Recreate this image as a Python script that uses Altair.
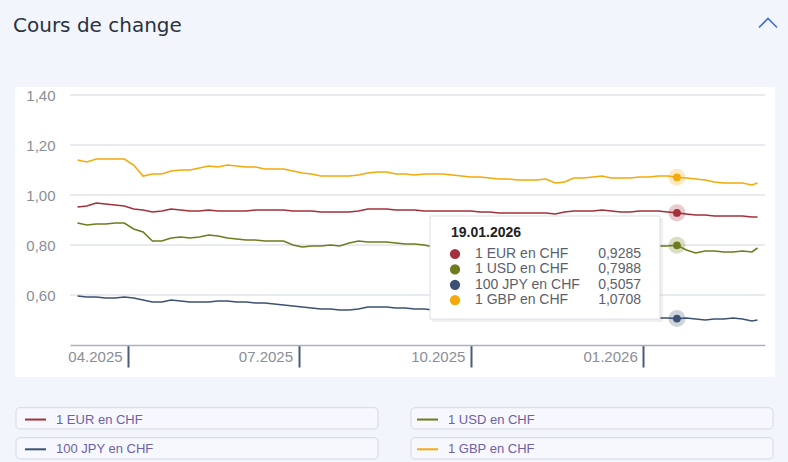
import altair as alt
import pandas as pd

# ---------------- data ----------------
DATES = [
    "2025-03-05", "2025-03-10", "2025-03-15", "2025-03-20", "2025-03-25", "2025-03-30",
    "2025-04-04", "2025-04-09", "2025-04-14", "2025-04-19", "2025-04-24", "2025-04-29",
    "2025-05-04", "2025-05-09", "2025-05-14", "2025-05-19", "2025-05-24", "2025-05-29",
    "2025-06-03", "2025-06-08", "2025-06-13", "2025-06-18", "2025-06-23", "2025-06-28",
    "2025-07-03", "2025-07-08", "2025-07-13", "2025-07-18", "2025-07-23", "2025-07-28",
    "2025-08-02", "2025-08-07", "2025-08-12", "2025-08-17", "2025-08-22", "2025-08-27",
    "2025-09-01", "2025-09-06", "2025-09-11", "2025-09-16", "2025-09-21", "2025-09-26",
    "2025-10-01", "2025-10-06", "2025-10-11", "2025-10-16", "2025-10-21", "2025-10-26", "2025-10-31",
    "2025-11-05", "2025-11-10", "2025-11-15", "2025-11-20", "2025-11-25", "2025-11-30",
    "2025-12-05", "2025-12-10", "2025-12-15", "2025-12-20", "2025-12-25", "2025-12-30",
    "2026-01-04", "2026-01-09", "2026-01-14", "2026-01-19", "2026-01-24", "2026-01-29",
    "2026-02-03", "2026-02-08", "2026-02-13", "2026-02-18", "2026-02-23", "2026-02-28",
    "2026-03-03",
]

EUR = [
    0.952, 0.956, 0.968, 0.964, 0.960, 0.956,
    0.944, 0.940, 0.932, 0.936, 0.944, 0.940,
    0.936, 0.936, 0.940, 0.936, 0.936, 0.936,
    0.936, 0.940, 0.940, 0.940, 0.940, 0.936,
    0.936, 0.936, 0.932, 0.932, 0.932, 0.932,
    0.936, 0.944, 0.944, 0.944, 0.940, 0.940,
    0.940, 0.936, 0.936, 0.936, 0.936, 0.936,
    0.936, 0.932, 0.932, 0.928, 0.928, 0.928, 0.928,
    0.928, 0.928, 0.924, 0.932, 0.936, 0.936,
    0.936, 0.940, 0.936, 0.932, 0.932, 0.936,
    0.936, 0.936, 0.932, 0.9285, 0.924, 0.920,
    0.920, 0.916, 0.916, 0.916, 0.916, 0.912,
    0.912,
]

USD = [
    0.888, 0.880, 0.884, 0.884, 0.888, 0.888,
    0.864, 0.852, 0.816, 0.816, 0.828, 0.832,
    0.828, 0.832, 0.840, 0.836, 0.828, 0.824,
    0.820, 0.820, 0.816, 0.816, 0.816, 0.800,
    0.792, 0.796, 0.796, 0.800, 0.796, 0.808,
    0.816, 0.812, 0.812, 0.812, 0.808, 0.804,
    0.804, 0.800, 0.792, 0.796, 0.796, 0.800,
    0.804, 0.804, 0.808, 0.808, 0.812, 0.812, 0.816,
    0.816, 0.816, 0.812, 0.808, 0.804, 0.796,
    0.796, 0.792, 0.788, 0.788, 0.788, 0.788,
    0.792, 0.796, 0.796, 0.7988, 0.780, 0.768,
    0.776, 0.776, 0.772, 0.772, 0.776, 0.772,
    0.788,
]

JPY = [
    0.596, 0.592, 0.592, 0.588, 0.588, 0.592,
    0.588, 0.580, 0.572, 0.572, 0.580, 0.576,
    0.572, 0.572, 0.572, 0.576, 0.576, 0.572,
    0.572, 0.568, 0.568, 0.564, 0.560, 0.556,
    0.552, 0.548, 0.544, 0.544, 0.540, 0.540,
    0.544, 0.552, 0.552, 0.552, 0.548, 0.548,
    0.544, 0.544, 0.540, 0.540, 0.536, 0.536,
    0.532, 0.532, 0.528, 0.528, 0.524, 0.524, 0.520,
    0.520, 0.516, 0.516, 0.516, 0.512, 0.512,
    0.512, 0.508, 0.508, 0.508, 0.508, 0.508,
    0.508, 0.508, 0.508, 0.5057, 0.508, 0.504,
    0.500, 0.504, 0.504, 0.508, 0.504, 0.496,
    0.500,
]

GBP = [
    1.140, 1.132, 1.144, 1.144, 1.144, 1.144,
    1.120, 1.076, 1.084, 1.084, 1.096, 1.100,
    1.100, 1.108, 1.116, 1.112, 1.120, 1.116,
    1.112, 1.112, 1.104, 1.104, 1.104, 1.096,
    1.088, 1.084, 1.076, 1.076, 1.076, 1.076,
    1.080, 1.088, 1.092, 1.092, 1.084, 1.084,
    1.080, 1.084, 1.084, 1.084, 1.080, 1.076,
    1.072, 1.072, 1.068, 1.064, 1.064, 1.060, 1.060,
    1.060, 1.064, 1.048, 1.052, 1.068, 1.068,
    1.072, 1.076, 1.068, 1.068, 1.068, 1.072,
    1.072, 1.076, 1.076, 1.0708, 1.068, 1.064,
    1.060, 1.052, 1.048, 1.048, 1.048, 1.040,
    1.048,
]

SERIES = ["1 EUR en CHF", "1 USD en CHF", "100 JPY en CHF", "1 GBP en CHF"]
COLORS = ["#a3303a", "#6f7b1d", "#3d5174", "#f5a90a"]
Y_TICKS = [0.6, 0.8, 1.0, 1.2, 1.4]
X_TICKS = [(2025, 4, 1), (2025, 7, 1), (2025, 10, 1), (2026, 1, 1)]
HOVER_DATE = "2026-01-19"
TITLE = "Cours de change"

# ---------------- tables ----------------
rows = []
for name, vals in zip(SERIES, [EUR, USD, JPY, GBP]):
    for d, v in zip(DATES, vals):
        rows.append({"date": d, "series": name, "value": v})
df = pd.DataFrame(rows)
hover = df[df["date"] == HOVER_DATE]
one = pd.DataFrame({"k": [0]})

FONT = "Liberation Sans"

x_scale = alt.Scale(
    type="utc",
    domain=[alt.DateTime(year=2025, month=3, date=1, utc=True),
            alt.DateTime(year=2026, month=3, date=7, utc=True)],
)
y_scale = alt.Scale(domain=[0.4, 1.4], nice=False, zero=False)
color_scale = alt.Scale(domain=SERIES, range=COLORS)

x_axis = alt.Axis(
    values=[alt.DateTime(year=y, month=m, date=d, utc=True) for (y, m, d) in X_TICKS],
    labelExpr="utcFormat(datum.value, '%m.%Y')",
    labelAlign="right", labelOffset=-6, labelPadding=-18, labelBaseline="top",
    labelFlush=False, labelFontSize=15, labelFont=FONT, labelColor="#8a8e98",
    tickSize=22, tickWidth=2, tickColor="#4b5b78",
    domainColor="#aab2bf", domainWidth=1.5,
    grid=False, title=None, zindex=1,
)
y_axis = alt.Axis(
    values=Y_TICKS,
    labelExpr="replace(format(datum.value, '.2f'), '.', ',')",
    domain=False, ticks=False, grid=False,
    labelPadding=15, labelFontSize=15, labelFont=FONT, labelColor="#8a8e98",
    title=None, zindex=1,
)
legend = alt.Legend(
    title=None, orient="none", legendX=-46, legendY=312.8,
    direction="horizontal", columns=2, columnPadding=259, rowPadding=11, padding=0,
    symbolType="stroke", symbolSize=441, symbolStrokeWidth=2, symbolOpacity=1,
    labelFontSize=13, labelFont=FONT, labelColor="#6e5fa6", labelOffset=9,
)

X = alt.X("date:T", scale=x_scale, axis=x_axis)
Y = alt.Y("value:Q", scale=y_scale, axis=y_axis)

# ---------------- decorations ----------------
panel = alt.Chart(one).mark_rect(fill="white").encode(
    x=alt.value(-55), x2=alt.value(705), y=alt.value(-8), y2=alt.value(282))

boxes = []
for bx in (-54, 341):
    for by in (312.7, 342.7):
        boxes.append(alt.Chart(one).mark_rect(
            fill="#f6f8fd", stroke="#d3d9e4", strokeWidth=1, cornerRadius=4
        ).encode(x=alt.value(bx), x2=alt.value(bx + 362),
                 y=alt.value(by), y2=alt.value(by + 21.3)))

title = alt.Chart(one).mark_text(
    text=TITLE, font="DejaVu Sans", fontSize=20, color="#2b3140",
    align="left", baseline="alphabetic"
).encode(x=alt.value(-57), y=alt.value(-63))

chevron = alt.Chart(one).mark_point(
    shape="M-1,0.5L0,-0.5L1,0.5", size=324, filled=False,
    color="#3d6fd3", strokeWidth=1.6, opacity=1
).encode(x=alt.value(698), y=alt.value(-72))

grid = alt.Chart(pd.DataFrame({"value": Y_TICKS})).mark_rule(
    color="#d0d6e0", strokeWidth=1
).encode(y=Y)

# ---------------- data marks ----------------
lines = alt.Chart(df).mark_line(strokeWidth=1.6).encode(
    x=X, y=Y,
    color=alt.Color("series:N", scale=color_scale, legend=legend),
)

halo = alt.Chart(hover).mark_circle(size=290, opacity=0.25).encode(
    x=X, y=Y,
    color=alt.Color("series:N", scale=color_scale, legend=None),
)
dot = alt.Chart(hover).mark_circle(size=60, opacity=1).encode(
    x=X, y=Y,
    color=alt.Color("series:N", scale=color_scale, legend=None),
)

# ---------------- static tooltip ----------------
yy, mm, dd = HOVER_DATE.split("-")
tip_layers = [
    alt.Chart(one).mark_rect(fill="#000000", opacity=0.06).encode(
        x=alt.value(362), x2=alt.value(593), y=alt.value(123), y2=alt.value(227)),
    alt.Chart(one).mark_rect(fill="white", stroke="#dcdfe5", strokeWidth=1).encode(
        x=alt.value(360), x2=alt.value(590), y=alt.value(121), y2=alt.value(224)),
    alt.Chart(one).mark_text(
        text=f"{dd}.{mm}.{yy}", font=FONT, fontSize=14, fontWeight="bold",
        color="#222222", align="left", baseline="alphabetic"
    ).encode(x=alt.value(381), y=alt.value(142)),
]
for i, name in enumerate(SERIES):
    cy = 159 + i * 15.4
    val = float(hover[hover["series"] == name]["value"].iloc[0])
    tip_layers.append(alt.Chart(one).mark_circle(size=105, color=COLORS[i], opacity=1).encode(
        x=alt.value(385), y=alt.value(cy)))
    tip_layers.append(alt.Chart(one).mark_text(
        text=name, font=FONT, fontSize=14, color="#5b5f6b", align="left", baseline="middle"
    ).encode(x=alt.value(405), y=alt.value(cy)))
    tip_layers.append(alt.Chart(one).mark_text(
        text=f"{val:.4f}".replace(".", ","), font=FONT, fontSize=14, color="#5b5f6b",
        align="right", baseline="middle"
    ).encode(x=alt.value(571), y=alt.value(cy)))

chart = alt.layer(
    panel, *boxes, title, chevron, grid, lines, *tip_layers, halo, dot
).properties(
    width=695, height=250,
    padding={"left": 70, "top": 95, "right": 23, "bottom": 117},
    autosize="none",
    background="#f2f6fc",
).configure_view(stroke=None)

chart.save("out.html", embed_options={"renderer": "svg", "actions": False})
